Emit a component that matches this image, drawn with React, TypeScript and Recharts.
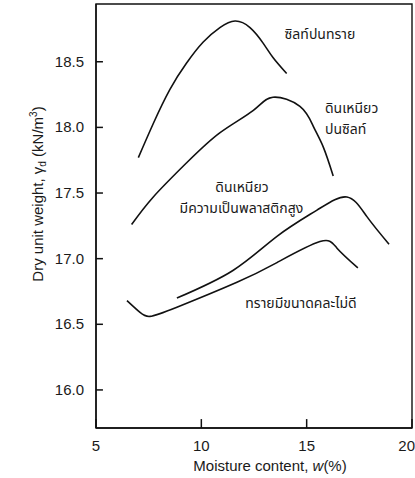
import React from 'react';
import { LineChart, Line, XAxis, YAxis, ReferenceArea, ReferenceDot, ReferenceLine } from 'recharts';

// Moisture content (%) and dry unit weight (kN/m3)
const siltySandW = [7.01, 7.72, 8.51, 9.3, 10.09, 10.88, 11.6, 12.31, 12.94, 13.41, 14.05];
const siltySandG = [17.77, 18.03, 18.29, 18.49, 18.65, 18.76, 18.81, 18.76, 18.64, 18.53, 18.41];

const siltyClayW = [6.69, 7.72, 9.3, 10.89, 12.47, 13.4, 14.68, 15.31, 15.79, 16.26];
const siltyClayG = [17.26, 17.47, 17.73, 17.96, 18.13, 18.23, 18.16, 18.01, 17.85, 17.63];

const highPlasticClayW = [8.84, 11.5, 13.59, 15.49, 16.91, 17.86, 18.91];
const highPlasticClayG = [16.7, 16.91, 17.17, 17.37, 17.47, 17.32, 17.11];

const poorSandW = [6.47, 7.09, 7.56, 8.84, 11.69, 13.59, 15.63, 16.44, 17.43];
const poorSandG = [16.68, 16.59, 16.56, 16.63, 16.82, 16.97, 17.13, 17.08, 16.93];

const xTicks = [5, 10, 15, 20];
const yTicks = [16.0, 16.5, 17.0, 17.5, 18.0, 18.5];
const xDomain = [5, 20];
const yDomain = [15.71, 18.94];

const toPoints = (w: number[], g: number[]) => w.map((x, i) => ({ x, y: g[i] }));

const curves = [
  toPoints(siltySandW, siltySandG),
  toPoints(siltyClayW, siltyClayG),
  toPoints(highPlasticClayW, highPlasticClayG),
  toPoints(poorSandW, poorSandG),
];

// soil names placed in data units
const soilLabels = [
  { x: 15.63, y: 18.71, text: 'ซิลท์ปนทราย', anchor: 'middle' },
  { x: 15.87, y: 18.145, text: 'ดินเหนียว', anchor: 'start' },
  { x: 15.87, y: 17.985, text: 'ปนซิลท์', anchor: 'start' },
  { x: 11.93, y: 17.545, text: 'ดินเหนียว', anchor: 'middle' },
  { x: 11.9, y: 17.385, text: 'มีความเป็นพลาสติกสูง', anchor: 'middle' },
  { x: 14.73, y: 16.66, text: 'ทรายมีขนาดคละไม่ดี', anchor: 'middle' },
];

const FONT = "'Liberation Sans', Arial, sans-serif";
const THAI_FONT = "'Noto Sans Thai', 'Noto Sans', 'DejaVu Sans', sans-serif";
const INK = '#111';

// short inward tick marks, lengths in data units (about 7px and 9px)
const yTickLen = (xDomain[1] - xDomain[0]) * 0.022;
const xTickLen = (yDomain[1] - yDomain[0]) * 0.021;

const YTickLabel = (props: any) => {
  const { x, y, payload } = props;
  return (
    <text x={x} y={y + 5} textAnchor="end" fontSize={15} fontFamily={FONT} fill="#1a1a1a">
      {Number(payload.value).toFixed(1)}
    </text>
  );
};

const XTickLabel = (props: any) => {
  const { x, y, payload } = props;
  const last = payload.value === xTicks[xTicks.length - 1];
  return (
    <text
      x={last ? x + 3 : x}
      y={y + 11}
      textAnchor={last ? 'end' : 'middle'}
      fontSize={15}
      fontFamily={FONT}
      fill="#1a1a1a"
    >
      {payload.value}
    </text>
  );
};

export default function App() {
  return (
    <div style={{ position: 'absolute', left: 0, top: 0, width: 415, height: 478, background: '#fff' }}>
      <LineChart width={415} height={478} margin={{ top: 4, right: 3, bottom: 0, left: 0 }}>
        <XAxis
          type="number"
          dataKey="x"
          domain={xDomain}
          ticks={xTicks}
          interval={0}
          allowDataOverflow
          height={50}
          tickSize={0}
          tickMargin={12}
          axisLine={{ stroke: INK, strokeWidth: 1.4 }}
          tickLine={false}
          tick={<XTickLabel />}
          label={{
            content: () => (
              <text x={270} y={471} textAnchor="middle" fontSize={15} fontFamily={FONT} fill="#1a1a1a">
                Moisture content, <tspan fontStyle="italic">w</tspan>(%)
              </text>
            ),
          }}
        />
        <YAxis
          type="number"
          domain={yDomain}
          ticks={yTicks}
          interval={0}
          allowDataOverflow
          width={96}
          tickSize={0}
          tickMargin={12}
          axisLine={{ stroke: INK, strokeWidth: 1.4 }}
          tickLine={false}
          tick={<YTickLabel />}
          label={{
            content: () => (
              <text
                x={43}
                y={194}
                transform="rotate(-90, 43, 194)"
                textAnchor="middle"
                fontSize={15}
                fontFamily={FONT}
                fill="#1a1a1a"
              >
                Dry unit weight, γ<tspan fontSize={10} dy={3}>d</tspan>
                <tspan dy={-3}> (kN/m</tspan>
                <tspan fontSize={10} dy={-6}>3</tspan>
                <tspan dy={6}>)</tspan>
              </text>
            ),
          }}
        />
        <ReferenceArea
          x1={xDomain[0]}
          x2={xDomain[1]}
          y1={yDomain[0]}
          y2={yDomain[1]}
          fill="none"
          stroke={INK}
          strokeWidth={1.4}
          ifOverflow="visible"
        />
        {yTicks.map((v) => (
          <ReferenceLine
            key={'yt' + v}
            segment={[
              { x: xDomain[0], y: v },
              { x: xDomain[0] + yTickLen, y: v },
            ]}
            stroke={INK}
            strokeWidth={1.5}
            ifOverflow="visible"
          />
        ))}
        {xTicks.map((v) => (
          <ReferenceLine
            key={'xt' + v}
            segment={[
              { x: v, y: yDomain[0] },
              { x: v, y: yDomain[0] + xTickLen },
            ]}
            stroke={INK}
            strokeWidth={1.5}
            ifOverflow="visible"
          />
        ))}
        {curves.map((pts, i) => (
          <Line
            key={i}
            data={pts}
            dataKey="y"
            type="natural"
            stroke={INK}
            strokeWidth={1.6}
            dot={false}
            activeDot={false}
            isAnimationActive={false}
          />
        ))}
        {soilLabels.map((l, i) => (
          <ReferenceDot
            key={i}
            x={l.x}
            y={l.y}
            r={0}
            fill="none"
            stroke="none"
            ifOverflow="visible"
            label={{
              content: (props: any) => {
                const vb = props.viewBox || {};
                const cx = vb.x + (vb.width || 0) / 2;
                const cy = vb.y + (vb.height || 0) / 2;
                return (
                  <text
                    x={cx}
                    y={cy + 5}
                    textAnchor={l.anchor}
                    fontSize={14}
                    fontFamily={THAI_FONT}
                    fill="#1a1a1a"
                  >
                    {l.text}
                  </text>
                );
              },
            }}
          />
        ))}
      </LineChart>
    </div>
  );
}
